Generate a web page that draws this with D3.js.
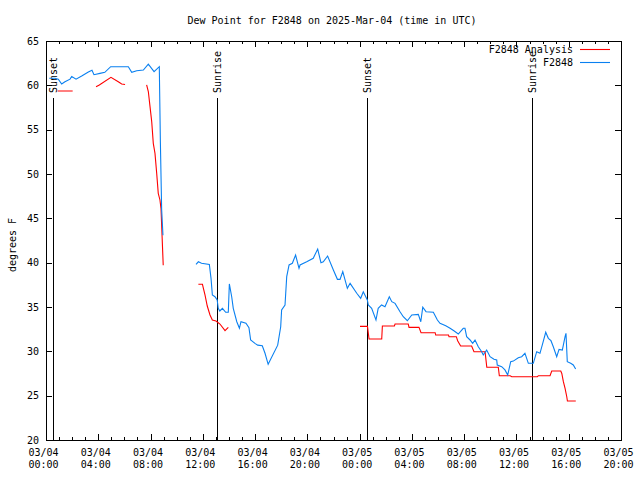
<!DOCTYPE html>
<html><head><meta charset="utf-8">
<script src="https://cdn.jsdelivr.net/npm/d3@7"></script>
<style>
body{margin:0;background:#fff;}
svg{display:block;font-family:"DejaVu Sans Mono",monospace;font-size:10px;}
</style></head>
<body><svg id="c" width="640" height="480"></svg>
<script>
// ---- DATA (hours after 2025-03-04 00:00 UTC) ----
const titleText = "Dew Point for F2848 on 2025-Mar-04 (time in UTC)";
const yLabel = "degrees F";
const seriesNames = ["F2848 Analysis", "F2848"];
const yTicks = [20,25,30,35,40,45,50,55,60,65];

const obsHours = [0.25,0.69,0.94,1.2,1.45,1.84,1.97,2.3,2.73,3.24,3.52,3.67,4.13,4.5,4.95,6.3,6.56,6.94,7.45,7.83,8.27,8.67,8.75,8.85,8.95,
  9.5,
  11.48,11.66,11.9,12.5,12.63,12.73,12.93,13.1,13.18,13.3,13.5,13.75,13.95,14.03,14.21,14.33,14.6,14.8,14.92,15.3,15.53,15.66,15.99,16.2,16.55,16.76,17.0,17.73,17.96,18.03,18.29,18.42,18.6,18.85,19.1,19.36,19.44,19.95,20.45,20.79,21.04,21.22,21.55,21.99,22.3,22.5,22.71,23.06,23.27,23.78,24.08,24.28,24.59,24.66,24.92,25.25,25.42,25.68,25.94,26.27,26.46,26.71,27.09,27.34,27.65,27.99,28.49,28.68,28.83,29.08,29.64,29.95,30.15,30.59,30.92,31.24,31.55,31.93,32.06,32.19,32.45,32.65,32.83,33.08,33.34,33.46,33.72,33.98,34.28,34.49,34.53,34.87,35.12,35.33,35.56,35.76,36.14,36.4,36.65,36.91,37.29,37.55,37.8,38.01,38.24,38.44,38.64,38.82,39.08,39.26,39.51,39.72,39.79,39.89,40.15,40.35,40.53];
const obsDew = [60.8,60.8,60.7,60.15,60.4,60.7,61.0,60.7,61.05,61.5,61.7,61.2,61.35,61.47,62.1,62.1,61.47,61.65,61.73,62.4,61.55,62.1,53.8,46.0,43.1,
  null,
  39.8,40.1,39.93,39.8,38.2,36.35,36.16,35.8,34.85,34.55,34.85,34.4,34.4,37.6,36.16,34.85,33.34,32.6,33.34,33.16,32.66,31.28,30.9,30.7,30.63,29.78,28.54,30.7,32.77,34.66,35.22,38.42,39.74,39.93,40.86,39.36,39.74,40.1,40.5,41.54,40.0,40.1,40.75,39.17,38.12,38.12,39.0,37.1,37.67,36.55,35.98,36.72,35.79,35.23,34.85,33.53,34.85,35.23,35.03,36.16,35.6,35.41,34.47,33.9,33.45,34.1,34.17,33.34,34.97,34.47,34.4,33.53,33.16,32.89,32.6,32.29,31.95,32.6,32.6,31.65,31.28,30.9,31.28,30.52,29.96,29.59,30.15,29.39,29.1,29.02,28.46,28.27,27.9,27.33,28.83,28.9,29.28,29.39,29.78,28.65,28.65,29.96,29.78,30.9,32.15,31.47,31.2,30.52,29.39,30.22,30.15,31.65,32.03,28.83,28.65,28.46,28.0];

const anaHours = [0.89,2.04,
  3.0,
  3.83,4.08,4.97,5.53,5.79,6.05,
  7.0,
  7.7,7.83,7.96,8.09,8.21,8.34,8.47,8.59,8.72,8.8,8.97,
  10.0,
  11.66,11.97,12.17,12.34,12.55,12.73,13.01,13.31,13.7,13.95,
  20.0,
  24.03,24.6,24.72,25.69,25.74,26.66,26.71,27.72,27.78,28.54,28.7,29.78,29.82,30.8,30.84,31.4,31.5,31.73,32.57,32.75,33.6,33.73,34.61,34.69,35.52,35.64,37.6,37.68,38.57,38.7,39.39,39.47,39.59,39.72,39.85,39.9,40.54];
const anaDew = [59.36,59.36,
  null,
  59.84,60.04,60.9,60.4,60.15,60.1,
  null,
  60.04,59.3,57.6,55.9,53.46,52.33,50.08,47.82,47.07,46.1,39.7,
  null,
  37.56,37.56,36.35,35.11,34.1,33.53,33.42,33.08,32.33,32.7,
  null,
  32.82,32.82,31.39,31.39,32.86,32.86,33.08,33.08,32.7,32.7,32.1,32.1,31.84,31.84,31.65,31.65,31.2,30.6,30.6,29.96,29.96,28.2,28.2,27.25,27.25,27.14,27.14,27.25,27.25,27.78,27.78,27.5,26.58,25.83,24.88,24.4,24.4];

const sunHours = [0.56, 13.11, 24.59, 37.17];
const sunLabels = ["Sunset", "Sunrise", "Sunset", "Sunrise"];

// ---- CHART ----
const svg = d3.select("#c");
const t0 = Date.UTC(2025,2,4,0,0);
const toDate = h => new Date(t0 + h*3600e3);
const L=46, R=621, T=41, B=440;
const x = d3.scaleUtc().domain([toDate(0), toDate(44)]).range([L,R]);
const y = d3.scaleLinear().domain([20,65]).range([B,T]);

const majorTicks = d3.utcHour.every(4).range(toDate(0), toDate(44.01));
const minorTicks = d3.utcHour.every(1).range(toDate(0), toDate(44.01));

svg.append("g").attr("transform",`translate(0,${B})`)
  .call(d3.axisBottom(x).tickValues(minorTicks).tickSize(-3).tickFormat(""))
  .call(g=>g.select(".domain").remove());
svg.append("g").attr("transform",`translate(0,${T})`)
  .call(d3.axisTop(x).tickValues(minorTicks).tickSize(-3).tickFormat(""))
  .call(g=>g.select(".domain").remove());
const fD = d3.utcFormat("%m/%d"), fT = d3.utcFormat("%H:%M");
svg.append("g").attr("transform",`translate(0,${B})`)
  .call(d3.axisBottom(x).tickValues(majorTicks).tickSize(-6).tickPadding(9).tickFormat(""))
  .call(g=>g.select(".domain").remove())
  .call(g=>g.selectAll(".tick text").each(function(d){
     const t=d3.select(this);
     t.append("tspan").attr("x",-3).attr("dy","0.71em").text(fD(d));
     t.append("tspan").attr("x",-3).attr("dy","1.2em").text(fT(d));
  }));
svg.append("g").attr("transform",`translate(0,${T})`)
  .call(d3.axisTop(x).tickValues(majorTicks).tickSize(-6).tickFormat(""))
  .call(g=>g.select(".domain").remove());
svg.append("g").attr("transform",`translate(${L},0)`)
  .call(d3.axisLeft(y).tickValues(yTicks).tickSize(-6).tickPadding(7).tickFormat(d3.format("d")))
  .call(g=>g.select(".domain").remove());
svg.append("g").attr("transform",`translate(${R},0)`)
  .call(d3.axisRight(y).tickValues(yTicks).tickSize(-6).tickFormat(""))
  .call(g=>g.select(".domain").remove());
svg.selectAll(".tick line").attr("stroke","#000").attr("shape-rendering","crispEdges");
svg.selectAll(".tick text").attr("fill","#000").style("font-family","'DejaVu Sans Mono',monospace").style("font-size","10px");

svg.append("rect").attr("x",L+0.5).attr("y",T+0.5).attr("width",R-L).attr("height",B-T)
  .attr("fill","none").attr("stroke","#000").attr("shape-rendering","crispEdges");

sunHours.forEach((h,i)=>{
  const xx = Math.round(x(toDate(h)))+0.5;
  svg.append("line").attr("x1",xx).attr("x2",xx).attr("y1",B).attr("y2",98)
    .attr("stroke","#000").attr("stroke-width",1).attr("shape-rendering","crispEdges");
  svg.append("text").attr("transform",`translate(${xx},93) rotate(-90)`)
    .attr("text-anchor","start").attr("dy","0.35em").text(sunLabels[i]);
});

const line = d3.line().defined(d=>d[1]!==null).x(d=>x(toDate(d[0]))).y(d=>y(d[1]));
const anaData = anaHours.map((h,i)=>[h,anaDew[i]]);
const obsData = obsHours.map((h,i)=>[h,obsDew[i]]);
svg.append("path").datum(anaData).attr("d",line).attr("fill","none").attr("stroke","#ff0000").attr("stroke-width",1.1);
svg.append("path").datum(obsData).attr("d",line).attr("fill","none").attr("stroke","#0a80f0").attr("stroke-width",1.1);

const legColors = ["#ff0000","#0a80f0"];
seriesNames.forEach((n,i)=>{
  const yy = 49 + i*13;
  svg.append("text").attr("x",573).attr("y",yy).attr("dy","0.35em").attr("text-anchor","end").text(n);
  svg.append("line").attr("x1",580).attr("x2",610).attr("y1",yy+0.5).attr("y2",yy+0.5).attr("stroke",legColors[i]).attr("stroke-width",1.1);
});

svg.append("text").attr("x",332).attr("y",20).attr("dy","0.35em").attr("text-anchor","middle").text(titleText);
svg.append("text").attr("transform","translate(12,245) rotate(-90)").attr("text-anchor","middle").attr("dy","0.35em").text(yLabel);
</script></body></html>
